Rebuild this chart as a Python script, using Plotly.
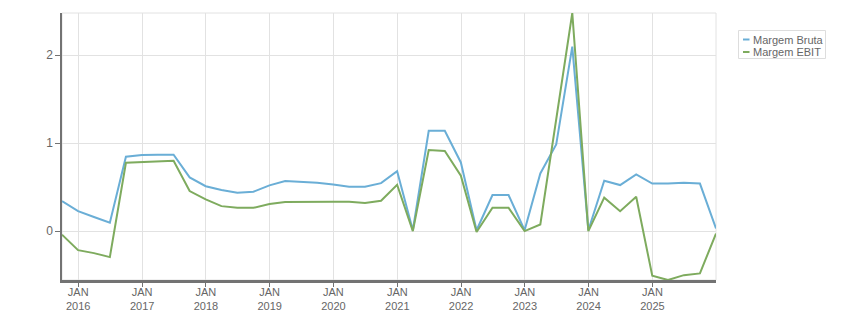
import plotly.graph_objects as go

dates = [
    "2015-09-30", "2015-12-31",
    "2016-03-31", "2016-06-30", "2016-09-30", "2016-12-31",
    "2017-03-31", "2017-06-30", "2017-09-30", "2017-12-31",
    "2018-03-31", "2018-06-30", "2018-09-30", "2018-12-31",
    "2019-03-31", "2019-06-30", "2019-09-30", "2019-12-31",
    "2020-03-31", "2020-06-30", "2020-09-30", "2020-12-31",
    "2021-03-31", "2021-06-30", "2021-09-30", "2021-12-31",
    "2022-03-31", "2022-06-30", "2022-09-30", "2022-12-31",
    "2023-03-31", "2023-06-30", "2023-09-30", "2023-12-31",
    "2024-03-31", "2024-06-30", "2024-09-30", "2024-12-31",
    "2025-03-31", "2025-06-30", "2025-09-30", "2025-12-31",
]

margem_bruta = [
    0.34, 0.227,
    0.16, 0.095, 0.845, 0.865,
    0.867, 0.867, 0.61, 0.51,
    0.466, 0.435, 0.447, 0.52,
    0.57, 0.56, 0.55, 0.53,
    0.505, 0.505, 0.545, 0.68,
    0.01, 1.14, 1.14, 0.78,
    0.01, 0.41, 0.41, 0.01,
    0.655, 0.985, 2.095, 0.01,
    0.572, 0.523, 0.644, 0.54,
    0.54, 0.55, 0.54, 0.03,
]

margem_ebit = [
    -0.04, -0.216,
    -0.25, -0.295, 0.776, 0.784,
    0.795, 0.80, 0.455, 0.36,
    0.284, 0.265, 0.265, 0.307,
    0.33, 0.333, 0.333, 0.333,
    0.333, 0.32, 0.345, 0.527,
    0.0, 0.92, 0.91, 0.63,
    -0.01, 0.265, 0.265, 0.0,
    0.076, 1.27, 2.477, 0.0,
    0.38, 0.227, 0.39, -0.507,
    -0.555, -0.50, -0.48, -0.027,
]

series_names = ["Margem Bruta", "Margem EBIT"]
series_colors = ["#6aaed6", "#7eab5e"]

tick_dates = ["2016-01-01", "2017-01-01", "2018-01-01", "2019-01-01", "2020-01-01",
              "2021-01-01", "2022-01-01", "2023-01-01", "2024-01-01", "2025-01-01"]
tick_labels = ["JAN<br>2016", "JAN<br>2017", "JAN<br>2018", "JAN<br>2019", "JAN<br>2020",
               "JAN<br>2021", "JAN<br>2022", "JAN<br>2023", "JAN<br>2024", "JAN<br>2025"]
y_ticks = [0, 1, 2]

W, H = 851, 313
L, R, T, B = 62, 716, 13, 280

fig = go.Figure()
for name, vals, col in zip(series_names, [margem_bruta, margem_ebit], series_colors):
    fig.add_trace(go.Scatter(x=dates, y=vals, mode="lines", name=name,
                             line=dict(color=col, width=2), showlegend=False))

all_vals = margem_bruta + margem_ebit
ymin, ymax = min(all_vals), max(all_vals)

font_fam = "Liberation Sans, Arial, sans-serif"
grey = "#666666"

def px_x(p):
    return (p - L) / (R - L)

def px_y(p):
    return (B - p) / (B - T)

shapes = [
    dict(type="rect", xref="paper", yref="paper", x0=0, x1=1, y0=0, y1=1,
         line=dict(color="#e2e2e2", width=1), layer="below"),
    # legend box
    dict(type="rect", xref="paper", yref="paper",
         x0=px_x(738.5), x1=px_x(825.5), y0=px_y(58.5), y1=px_y(30.5),
         line=dict(color="#dddddd", width=1), fillcolor="white"),
]
annotations = []
for i, (name, col) in enumerate(zip(series_names, series_colors)):
    yy = 39.5 + i * 12.5
    shapes.append(dict(type="line", xref="paper", yref="paper",
                       x0=px_x(743), x1=px_x(749.5), y0=px_y(yy), y1=px_y(yy),
                       line=dict(color=col, width=2)))
    annotations.append(dict(xref="paper", yref="paper", x=px_x(750.5), y=px_y(yy),
                            text=name, showarrow=False, xanchor="left", yanchor="middle",
                            font=dict(family=font_fam, size=11, color=grey)))

fig.update_layout(
    width=W, height=H,
    margin=dict(l=L, r=W - R, t=T, b=H - B),
    paper_bgcolor="white", plot_bgcolor="white",
    font=dict(family=font_fam, size=11, color=grey),
    shapes=shapes, annotations=annotations,
    xaxis=dict(
        type="date", range=[dates[0], dates[-1]], automargin=False,
        tickmode="array", tickvals=tick_dates, ticktext=tick_labels,
        showgrid=True, gridcolor="#e2e2e2", gridwidth=1,
        showline=True, linecolor="#737373", linewidth=2.5,
        ticks="outside", ticklen=4, tickcolor="#737373", tickwidth=1,
        tickfont=dict(family=font_fam, size=11, color=grey),
        ticklabelstandoff=-4,
        zeroline=False,
    ),
    yaxis=dict(
        range=[ymin, ymax], automargin=False,
        tickmode="array", tickvals=y_ticks,
        showgrid=True, gridcolor="#e2e2e2", gridwidth=1,
        showline=True, linecolor="#737373", linewidth=1.5,
        ticks="outside", ticklen=5, tickcolor="#737373", tickwidth=1,
        tickfont=dict(family=font_fam, size=12, color=grey),
        zeroline=False,
    ),
)

fig.write_html("out.html")
